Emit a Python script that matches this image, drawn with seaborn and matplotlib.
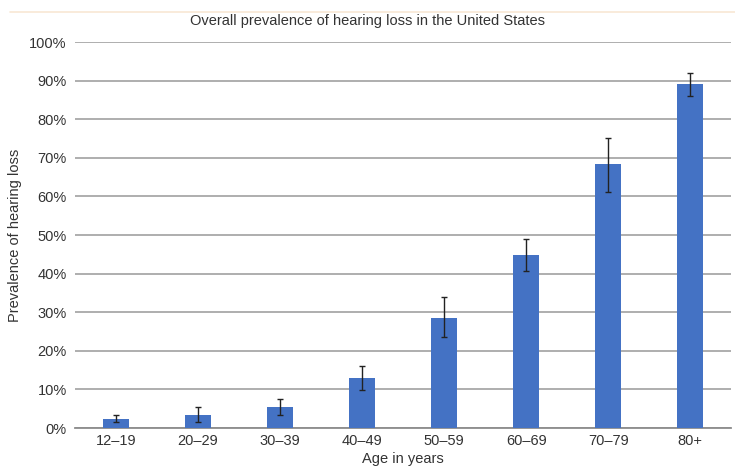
import matplotlib
matplotlib.use("Agg")
import matplotlib.pyplot as plt
import seaborn as sns
import pandas as pd
import numpy as np

age_groups = ["12\u201319", "20\u201329", "30\u201339", "40\u201349", "50\u201359", "60\u201369", "70\u201379", "80+"]
prevalence = [2.3, 3.3, 5.5, 12.9, 28.4, 44.8, 68.3, 89.1]
err_low = [1.6, 1.5, 3.4, 9.8, 23.5, 40.8, 61.2, 86.1]
err_high = [3.4, 5.4, 7.5, 16.0, 33.9, 49.0, 75.2, 92.0]
y_ticks = [0, 10, 20, 30, 40, 50, 60, 70, 80, 90, 100]

sns.set_theme(style="white")
plt.rcParams['font.family'] = ['Liberation Sans', 'DejaVu Sans']

df = pd.DataFrame({"age": age_groups, "prev": prevalence})

fig = plt.figure(figsize=(7.35, 4.69), dpi=100)
ax = fig.add_axes([0.102, 0.0874, 0.893, 0.823])

sns.barplot(data=df, x="age", y="prev", color="#4472C4", saturation=1,
            width=0.32, errorbar=None, ax=ax, zorder=3, linewidth=0)

xs = np.arange(len(age_groups))
prev = np.array(prevalence)
yerr = np.vstack([prev - np.array(err_low), np.array(err_high) - prev])
ax.errorbar(xs, prev, yerr=yerr, fmt="none", ecolor="#222222", elinewidth=1.0,
            capsize=2.5, capthick=1.0, zorder=4)

ax.set_ylim(0, 100)
ax.set_xlim(-0.5, len(age_groups) - 0.5)
ax.set_yticks(y_ticks)
ax.set_yticklabels([f"{t}%" for t in y_ticks])
ax.yaxis.grid(True, color="#a8a8a8", linewidth=1.3, zorder=0)
ax.set_axisbelow(True)
for s in ["left", "right", "top"]:
    ax.spines[s].set_visible(False)
ax.spines["bottom"].set_color("#8c8c8c")
ax.spines["bottom"].set_linewidth(1.3)
ax.tick_params(axis="both", length=0, labelsize=10.5, colors="#333333", pad=4)
ax.tick_params(axis="y", pad=6)

ax.set_xlabel("Age in years", fontsize=10.5, color="#333333", labelpad=3)
ax.set_ylabel("Prevalence of hearing loss", fontsize=10.5, color="#333333", labelpad=5)
fig.text(0.5, 0.955, "Overall prevalence of hearing loss in the United States",
         ha="center", va="center", fontsize=10.5, color="#333333")

fig.add_artist(plt.Line2D([0.013, 1.0], [0.974, 0.974], color="#f8e8d4", linewidth=1.2))

fig.savefig("out.png", dpi=100)
